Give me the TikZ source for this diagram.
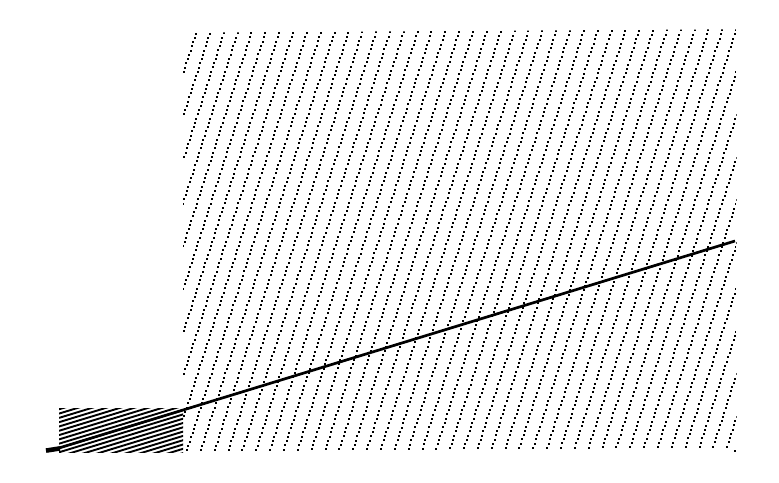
\documentclass[tikz,border=0pt]{standalone}
\tikzset{
  solidhatch/.style={line width=1.9pt},
  mainline/.style={line width=2.7pt},
  butt/.style={line width=4.6pt},
}
\begin{document}
\begin{tikzpicture}[x=1pt,y=-1pt]
\useasboundingbox (0,0) rectangle (779,482);
\fill[white] (0,0) rectangle (779,482);
% sparse dotted hatching, as dots snapped to the pixel grid
\begin{scope}
\clip (183,32.6) -- (736.5,29.3) -- (736.5,449) -- (183,452.5) -- cycle;
\foreach \i in {0,...,49}{
  \pgfmathsetmacro{\xa}{196+13.85*\i}
  \pgfmathsetmacro{\ya}{33.6-0.0067*13.85*\i}
  \pgfmathsetmacro{\kmin}{int(max(0,(\xa-736)/1.363))}
  \pgfmathsetmacro{\kmax}{int(min((\xa-183)/1.363,(452-\ya)/4.26))}
  \ifnum\kmax<\kmin\else
  \foreach \k in {\kmin,...,\kmax}{
    \pgfmathsetmacro{\px}{round(\xa-1.363*\k)}
    \pgfmathsetmacro{\py}{round(\ya+4.26*\k)}
    \fill[black] (\px-1,\py-1) rectangle (\px+1,\py+1);
  }
  \fi
}
\end{scope}
\fill[black] (734,450) rectangle (736,452);
% dense hatching
\begin{scope}
\clip (59,408) rectangle (183,452);
\foreach \i in {0,...,19}{
  \pgfmathsetmacro{\ya}{409.3+4.3*\i}
  \coordinate (c) at (59,\ya);
  \coordinate (d) at (184,\ya-38.2);
  \draw[solidhatch] (c) -- (d);
}
\end{scope}
% main line
\coordinate (p) at (57,448.6);
\coordinate (q) at (735,241);
\coordinate (r) at (46,450.6);
\coordinate (s) at (60,448.4);
\draw[mainline] (p) -- (q);
\draw[butt] (r) -- (s);
\end{tikzpicture}
\end{document}
